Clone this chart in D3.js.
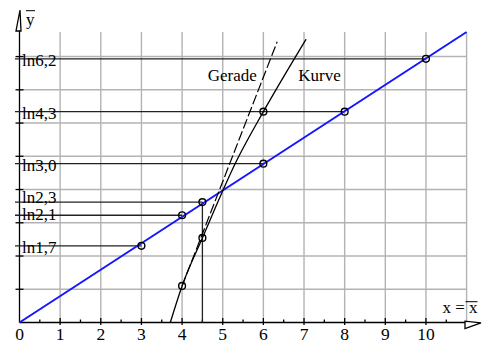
<!DOCTYPE html>
<html>
<head>
<meta charset="utf-8">
<script src="https://cdn.jsdelivr.net/npm/d3@7"></script>
<style>
  body { margin: 0; background: #fff; }
  svg { display: block; font-family: "Liberation Serif", "DejaVu Serif", serif; }
</style>
</head>
<body>
<svg id="chart" width="483" height="342"></svg>
<script>
// measured points (x, y) -> plotted as (x, ln y)
const pointX = [3, 4, 4.5, 6, 8, 10];
const pointY = [1.7, 2.1, 2.3, 3.0, 4.3, 6.2];
const pointLabels = ["ln1,7", "ln2,1", "ln2,3", "ln3,0", "ln4,3", "ln6,2"];

// straight line through the transformed points
const fitX = [0, 11];
const fitY = [0, 2.01];

// "Kurve" and its secant "Gerade" (in y-bar units)
const kurveX = [3.71, 4, 4.5, 5.35, 6, 7.05];
const kurveY = [0, 0.253, 0.585, 1.124, 1.459, 1.96];
const kurveMarkX = [4, 4.5, 6];
const geradeX = [4, 6.34];
const geradeY = [0.253, 1.943];

// axis ticks
const xTickLabels = [0, 1, 2, 3, 4, 5, 6, 7, 8, 9, 10];
const xMinorTicks = [0.5, 1.5, 2.5, 3.5, 4.5, 5.5, 6.5, 7.5, 8.5, 9.5, 10.5];
const xGrid = [1, 2, 3, 4, 5, 6, 7, 8, 9, 10, 11];
const yGrid = [0.23, 0.46, 0.69, 0.92, 1.15, 1.38, 1.61, 1.84];

const svg = d3.select("#chart");

var x = d3.scaleLinear().domain([0, 11]).range([19.5, 466.6]);
var y = d3.scaleLinear().domain([0, 2.01]).range([322.5, 32]);

var kurveAt = d3.scaleLinear().domain(kurveX).range(kurveY);

// grid
const grid = svg.append("g").attr("stroke", "#b3b3b3").attr("stroke-width", 1.4);
grid.selectAll("line.v").data(xGrid).join("line")
    .attr("x1", d => x(d)).attr("x2", d => x(d))
    .attr("y1", y(0)).attr("y2", y(2.01));
grid.selectAll("line.h").data(yGrid).join("line")
    .attr("x1", x(0)).attr("x2", x(11))
    .attr("y1", d => y(d)).attr("y2", d => y(d));

// y axis
const ax = svg.append("g").attr("stroke", "#000").attr("stroke-width", 1.3).attr("fill", "none");
ax.append("line").attr("x1", x(0)).attr("x2", x(0)).attr("y1", y(0)).attr("y2", 31);
ax.append("path").attr("d", "M20,10 L16,31 L21,31 Z");
ax.selectAll("line.yt").data(yGrid).join("line")
    .attr("x1", x(0) - 4).attr("x2", x(0) + 4)
    .attr("y1", d => y(d)).attr("y2", d => y(d));

// x axis
ax.append("line").attr("x1", x(0)).attr("x2", 465).attr("y1", y(0)).attr("y2", y(0));
ax.append("path").attr("d", "M481,322.8 L465,321.2 L465,328.5 Z");
ax.selectAll("line.xt").data(xTickLabels.slice(1)).join("line")
    .attr("x1", d => x(d)).attr("x2", d => x(d))
    .attr("y1", y(0) - 4.5).attr("y2", y(0) + 2.5);
ax.selectAll("line.xm").data(xMinorTicks).join("line")
    .attr("x1", d => x(d)).attr("x2", d => x(d))
    .attr("y1", y(0) - 3).attr("y2", y(0) + 0.5);

svg.append("g").attr("font-size", 17.5).attr("text-anchor", "middle")
  .selectAll("text").data(xTickLabels).join("text")
    .attr("x", d => x(d)).attr("y", 339.5)
    .text(d => d);

// axis names with bars
svg.append("text").attr("x", 26).attr("y", 25).attr("font-size", 17).text("y");
ax.append("line").attr("x1", 26).attr("x2", 35).attr("y1", 10.7).attr("y2", 10.7).attr("stroke-width", 1);
svg.append("text").attr("x", 442.5).attr("y", 313.3).attr("font-size", 17).text("x = x");
ax.append("line").attr("x1", 465.5).attr("x2", 477.5).attr("y1", 301.7).attr("y2", 301.7).attr("stroke-width", 1);

// level lines from the y axis to each point, and their labels
const levels = svg.append("g").attr("stroke", "#222").attr("stroke-width", 1.3);
levels.selectAll("line").data(pointX).join("line")
    .attr("x1", x(0) - 4.5).attr("x2", d => x(d))
    .attr("y1", (d, i) => y(Math.log(pointY[i])))
    .attr("y2", (d, i) => y(Math.log(pointY[i])));
levels.append("line")
    .attr("x1", x(4.5)).attr("x2", x(4.5))
    .attr("y1", y(0)).attr("y2", y(Math.log(pointY[2])));

// labels nudged so the close ones don't collide
const labelDy = { "ln2,3": 0.5, "ln2,1": 5 };
svg.append("g").attr("font-size", 17)
  .selectAll("text").data(pointLabels).join("text")
    .attr("x", 22)
    .attr("y", (d, i) => y(Math.log(pointY[i])) + (labelDy[d] !== undefined ? labelDy[d] : 7))
    .text(d => d);

// fitted straight line
svg.append("path")
    .datum(d3.zip(fitX, fitY))
    .attr("fill", "none").attr("stroke", "#1515ff").attr("stroke-width", 2)
    .attr("d", d3.line().x(d => x(d[0])).y(d => y(d[1])));

// Kurve
svg.append("path")
    .datum(d3.zip(kurveX, kurveY))
    .attr("fill", "none").attr("stroke", "#000").attr("stroke-width", 1.3)
    .attr("d", d3.line().curve(d3.curveMonotoneX).x(d => x(d[0])).y(d => y(d[1])));

// Gerade (dashed)
svg.append("path")
    .datum(d3.zip(geradeX, geradeY))
    .attr("fill", "none").attr("stroke", "#000").attr("stroke-width", 1.2)
    .attr("stroke-dasharray", "10,3")
    .attr("d", d3.line().x(d => x(d[0])).y(d => y(d[1])));

svg.append("text").attr("x", x(4.63)).attr("y", y(1.673)).attr("font-size", 17).text("Gerade");
svg.append("text").attr("x", x(6.86)).attr("y", y(1.673)).attr("font-size", 17).text("Kurve");

// point markers
const marks = svg.append("g").attr("fill", "none").attr("stroke", "#000").attr("stroke-width", 1.4);
marks.selectAll("circle.p").data(pointX).join("circle")
    .attr("cx", d => x(d))
    .attr("cy", (d, i) => y(Math.log(pointY[i])))
    .attr("r", 3.4);
marks.selectAll("circle.k").data(kurveMarkX).join("circle")
    .attr("cx", d => x(d))
    .attr("cy", d => y(kurveAt(d)))
    .attr("r", 3.4);
</script>
</body>
</html>
